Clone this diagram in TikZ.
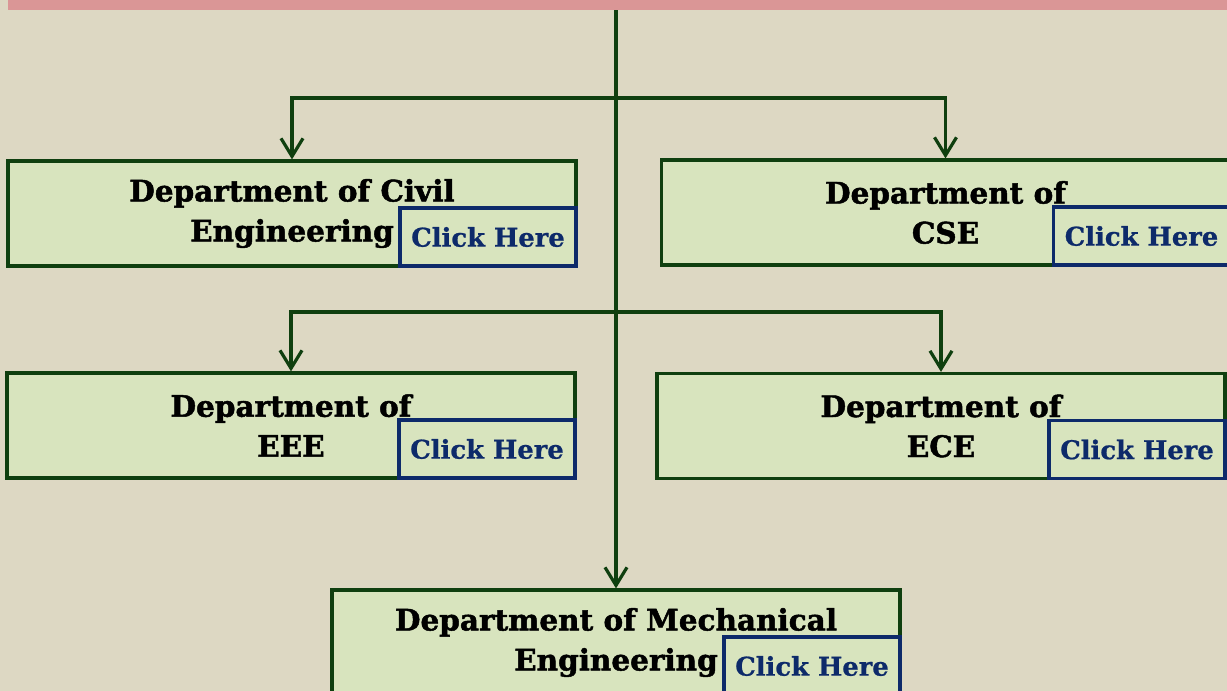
\documentclass[tikz,border=0pt]{standalone}
\usepackage{fontspec}
\setmainfont{DejaVu Serif}
\newfontfamily\heavy[FakeBold=1.6]{DejaVu Serif Bold}
\newfontfamily\clickfont[FakeBold=0.8]{DejaVu Serif Bold}
\usetikzlibrary{arrows.meta}
\definecolor{bg}{HTML}{DDD8C3}
\definecolor{bar}{HTML}{DA9696}
\definecolor{boxfill}{HTML}{D8E4BE}
\definecolor{dgreen}{HTML}{0F3F0F}
\definecolor{navy}{HTML}{0D2A6A}
\begin{document}
\begin{tikzpicture}[x=1pt,y=-1pt,
 dept/.style={draw=dgreen, line width=3.2pt, fill=boxfill, minimum width=568pt, minimum height=105pt, align=center, font=\heavy\fontsize{29.5}{40}\selectfont, inner sep=0pt},
 clickbox/.style={draw=navy, line width=3.2pt, fill=boxfill, minimum width=176pt, minimum height=58pt, text=navy, font=\clickfont\fontsize{25.8}{28}\selectfont, inner sep=0pt, anchor=south east},
 conn/.style={draw=dgreen, line width=3.2pt},
 arr/.style={conn, -{Straight Barb[length=18pt,width=22pt]}}]
\fill[bg] (0,0) rectangle (1227,691);
\useasboundingbox (0,0) rectangle (1227,691);
\clip (0,0) rectangle (1227,691);
\node[fill=bar, inner sep=0pt, minimum width=1232pt, minimum height=15pt, anchor=south west] (topbar) at (8,10) {};
\node[dept] (civil) at (292,213.5) {Department of Civil\\Engineering};
\node[clickbox] (civilc) at (civil.south east) {Click Here};
\node[dept] (cse) at (945.5,212.5) {Department of\\CSE};
\node[clickbox] (csec) at (cse.south east) {Click Here};
\node[dept] (eee) at (291,425.5) {Department of\\EEE};
\node[clickbox] (eeec) at (eee.south east) {Click Here};
\node[dept] (ece) at (941,426) {Department of\\ECE};
\node[clickbox] (ecec) at (ece.south east) {Click Here};
\node[dept] (mech) at (616,642.5) {Department of Mechanical\\Engineering};
\node[clickbox] (mechc) at (mech.south east) {Click Here};
\coordinate (j1) at (616,98);
\coordinate (j2) at (616,312);
\draw[arr] (topbar.south -| mech.north) -- (mech.north);
\draw[arr] (j1) -| (civil.north);
\draw[arr] (j1) -| (cse.north);
\draw[arr] (j2) -| (eee.north);
\draw[arr] (j2) -| (ece.north);
\end{tikzpicture}
\end{document}
